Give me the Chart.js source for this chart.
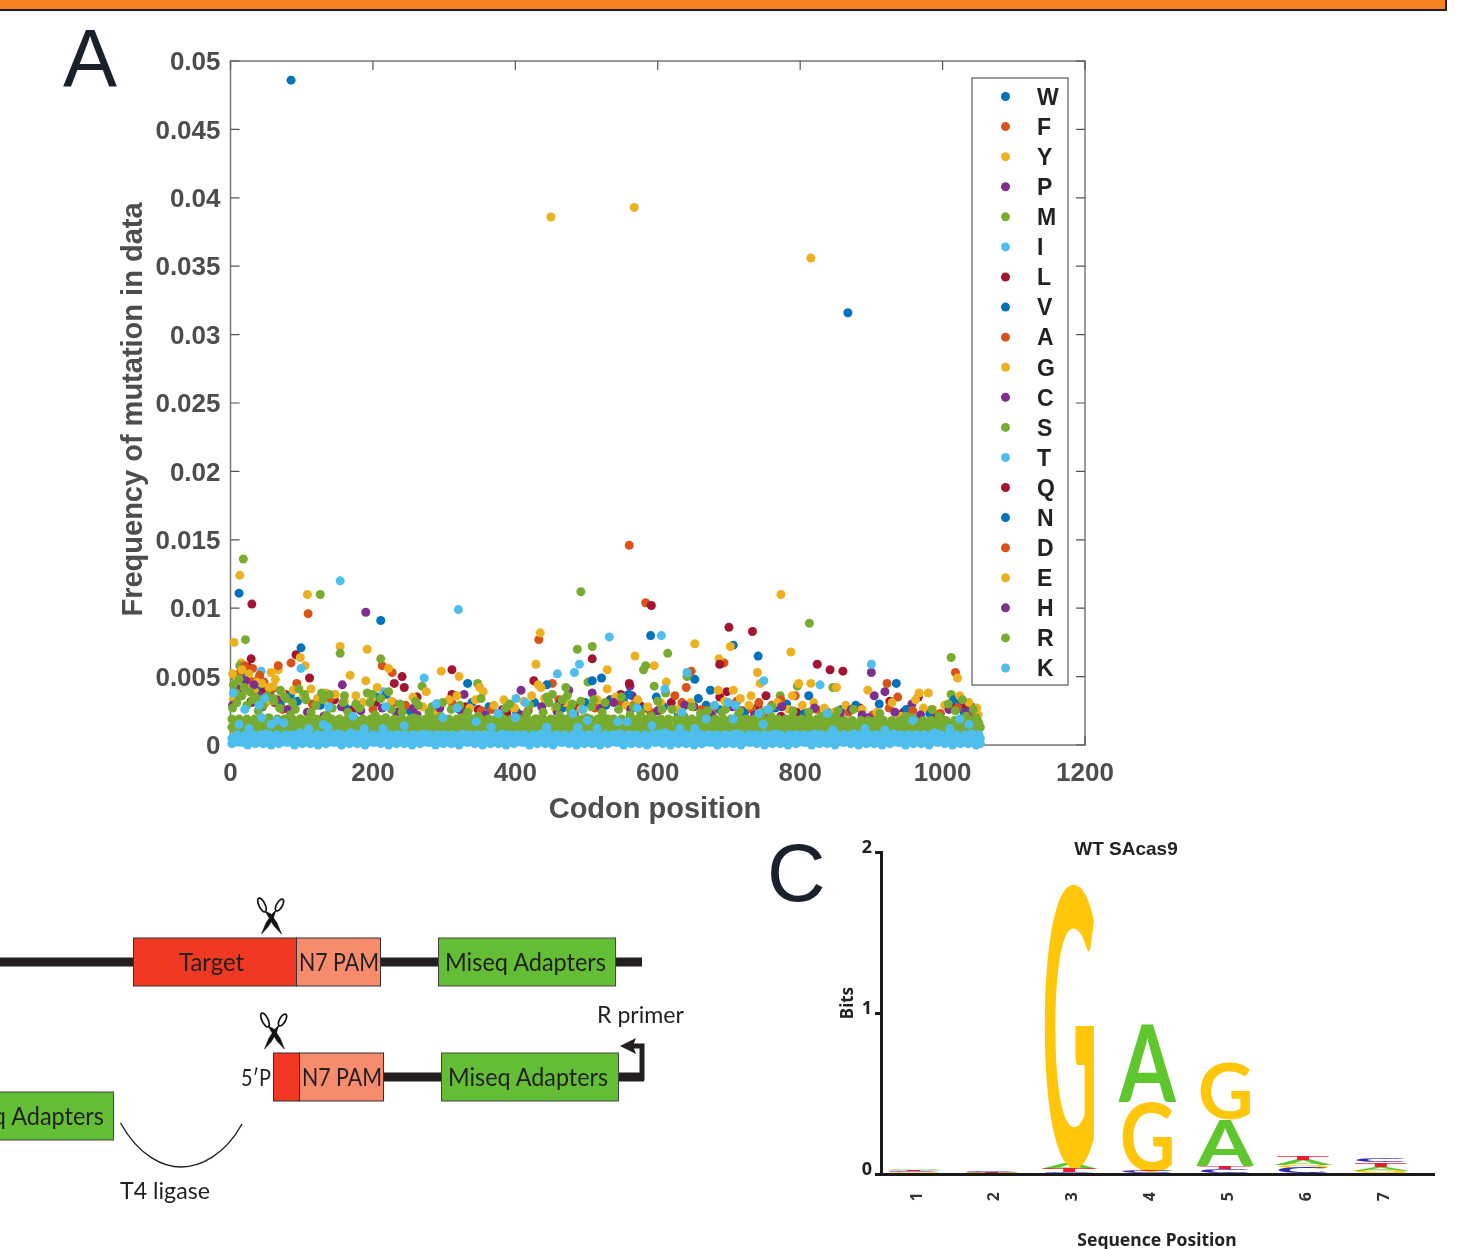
<!DOCTYPE html>
<html><head><meta charset="utf-8">
<script src="https://cdn.jsdelivr.net/npm/chart.js@4"></script>
<style>
html,body{margin:0;padding:0;background:#fff;width:1464px;height:1249px;overflow:hidden}
#bar{position:absolute;left:0;top:0;width:1445px;height:9px;background:#F58220;border-bottom:2px solid #231f20;border-right:2px solid #231f20}
canvas{position:absolute}
#main{left:0;top:0}#logo{left:760px;top:830px}
#sk{position:absolute;left:0;top:0}
.pl{position:absolute;font:81px "Liberation Sans",Arial,sans-serif;color:#1a202c;line-height:1}
</style></head><body>
<canvas id="main" width="1464" height="830"></canvas>
<canvas id="logo" width="704" height="419"></canvas>
<div id="bar"></div>
<div class="pl" style="left:63px;top:18px">A</div>
<div class="pl" style="left:767px;top:833px">C</div>
<svg id="sk" width="760" height="1249" xmlns="http://www.w3.org/2000/svg" style="font-family:Lato,sans-serif;fill:#231f20">
<defs><g id="sc" fill="none" stroke="#111">
<ellipse cx="262" cy="905" rx="3" ry="7.6" transform="rotate(-26 262 905)" stroke-width="1.7"/>
<ellipse cx="279.5" cy="905" rx="2.9" ry="6.6" transform="rotate(30 279.5 905)" stroke-width="1.7"/>
<path d="M265 911L271 914L277 923L281.5 934L274 926Z" fill="#111" stroke-width=".6"/>
<path d="M276 910L272 914L266 923L261.5 934L268 927L273 919Z" fill="#111" stroke-width=".6"/></g></defs>
<rect x="0" y="957.5" width="642" height="9" fill="#231f20"/>
<rect x="133.5" y="938" width="163" height="48" fill="#F03823" stroke="#333" stroke-width="1"/>
<rect x="296.5" y="938" width="84" height="48" fill="#F68B6D" stroke="#333" stroke-width="1"/>
<rect x="438.5" y="938" width="177" height="48" fill="#63BE35" stroke="#444" stroke-width="1"/>
<use href="#sc"/>
<text x="179" y="971" font-size="25" textLength="65" lengthAdjust="spacingAndGlyphs">Target</text>
<text x="299" y="971" font-size="25" textLength="80" lengthAdjust="spacingAndGlyphs">N7 PAM</text>
<text x="445" y="971" font-size="25" textLength="161" lengthAdjust="spacingAndGlyphs">Miseq Adapters</text>
<rect x="384" y="1072.5" width="260" height="9" fill="#231f20"/>
<path d="M618 1078H642V1046H630" fill="none" stroke="#231f20" stroke-width="5"/>
<path d="M620 1046L636 1038L633 1046L636 1054Z" fill="#231f20"/>
<rect x="273.5" y="1053" width="26" height="48" fill="#F03823" stroke="#333" stroke-width="1"/>
<rect x="299.5" y="1053" width="84" height="48" fill="#F68B6D" stroke="#333" stroke-width="1"/>
<rect x="441.5" y="1053" width="177" height="48" fill="#63BE35" stroke="#444" stroke-width="1"/>
<use href="#sc" transform="translate(3 115)"/>
<text x="241" y="1086" font-size="24" textLength="30" lengthAdjust="spacingAndGlyphs">5′P</text>
<text x="302" y="1086" font-size="25" textLength="80" lengthAdjust="spacingAndGlyphs">N7 PAM</text>
<text x="448" y="1086" font-size="25" textLength="160" lengthAdjust="spacingAndGlyphs">Miseq Adapters</text>
<text x="597" y="1023" font-size="24" textLength="87" lengthAdjust="spacingAndGlyphs">R primer</text>
<rect x="-5" y="1092" width="118.5" height="48" fill="#63BE35" stroke="#444" stroke-width="1"/>
<text x="-57" y="1125" font-size="25" textLength="161" lengthAdjust="spacingAndGlyphs">Miseq Adapters</text>
<path d="M120.5 1123C140 1158 165 1167 181 1167C200 1167 225 1155 242 1124" fill="none" stroke="#231f20" stroke-width="1.4"/>
<text x="120" y="1199" font-size="24" textLength="90" lengthAdjust="spacingAndGlyphs">T4 ligase</text>
</svg>
<script>
// ---- Panel A values: [codon position, frequency] ----
const bandA=[6,17,27,38,49,60,70,81,93,104,114,125,137,148,158,169,181,192,202,213,225,236,246,257,269,280,290,301,313,324,334,345,357,368,378,389,401,412,422,433,445,456,466,477,489,500,510,521,533,544,554,565,577,588,598,609,621,632,642,653,665,676,686,697,709,720,730,741,753,764,774,785,797,808,818,829,841,852,862,873,885,896,906,917,929,940,950,961,973,984,994,1005,1017,1028,1038,1049];
const bandB=[2,12,23,34,44,55,66,76,87,98,109,120,131,142,153,164,175,186,197,208,219,230,241,252,263,274,285,296,307,318,329,340,351,362,373,384,395,406,417,428,439,450,461,472,483,494,505,516,527,538,549,560,571,582,593,604,615,626,637,648,659,670,681,692,703,714,725,736,747,758,769,780,791,802,813,824,835,846,857,868,879,890,901,912,923,934,945,956,967,978,989,1000,1011,1022,1033,1044,1053];
const bandC=[9,21,32,43,54,65,77,88,99,110,122,133,144,155,166,178,189,200,211,223,234,245,256,267,279,290,301,312,324,335,346,357,368,380,391,402,413,425,436,447,458,469,481,492,503,514,526,537,548,559,570,582,593,604,615,627,638,649,660,671,683,694,705,716,728,739,750,761,772,784,795,806,817,829,840,851,862,873,885,896,907,918,930,941,952,963,974,986,997,1008,1019,1031,1042,1051];
const band=(level,xs)=>xs.map(x=>[x,level]);
const W=[[85,.0486],[867,.0316],[12,.0111]];
const F=[[560,.0146],[583,.0104],[109,.0096]];
const Y=[[450,.0386],[567,.0393],[815,.0356],[13,.0124],[108,.011],[773,.011]];
const P=[[190,.0097],[900,.0053],[157,.0044],[408,.004]];
const M=[[18,.0136],[126,.011],[492,.0112],[813,.0089],[21,.0077]];
const I=[[154,.012],[320,.0099],[605,.008],[532,.0079],[490,.0059],[900,.0059]];
const L=[[30,.0103],[591,.0102],[700,.0086],[733,.0083],[92,.0066],[29,.0063],[508,.0063]];
const V=[[211,.0091],[99,.0071],[590,.008],[706,.0073],[741,.0065],[652,.0048],[935,.0045],[333,.0045],[521,.0049]];
const A=[[433,.0077],[85,.006],[213,.0058],[227,.0053],[693,.006],[1018,.0053],[647,.0054],[640,.0042],[922,.0045],[452,.0045]];
const G=[[435,.0082],[5,.0075],[154,.0072],[192,.007],[568,.0065],[595,.0058],[652,.0074],[702,.0072],[686,.0063],[787,.0068],[98,.0064],[105,.0058],[296,.0054],[321,.005],[222,.0056],[429,.0059],[740,.0053],[168,.0051],[190,.0047],[529,.0055],[612,.0046],[744,.0045],[815,.0045],[15,.006],[57,.0053],[67,.0055]];
const C=[[475,.004],[508,.0038],[328,.0037],[561,.0043],[564,.0036],[651,.0028],[919,.0039],[904,.0036],[957,.003],[1026,.0032],[1040,.0028],[18,.0045],[36,.0038]];
const S=[[154,.0067],[211,.0063],[487,.007],[508,.0072],[583,.0058],[580,.0055],[614,.0067],[1012,.0064],[13,.0058],[641,.005],[595,.0043],[796,.0043],[347,.0045],[269,.0043],[192,.0038],[5,.005],[471,.0042],[502,.0046],[846,.0042],[1012,.0037],[611,.0038],[772,.0036]];
const T=[[483,.0053],[459,.0052],[641,.0053],[272,.0049],[99,.0056],[749,.0047],[828,.0044],[43,.0054],[610,.0041],[215,.0039]];
const Q=[[687,.0059],[824,.0059],[842,.0055],[860,.0054],[311,.0055],[241,.005],[230,.0045],[244,.0042],[111,.0049],[560,.0045],[13,.005],[426,.0047],[311,.0037],[262,.0035],[228,.0031],[330,.0028],[29,.0032],[697,.0039],[687,.0035],[752,.0036],[926,.0032],[966,.0035],[1013,.0031],[1046,.0019],[773,.0021],[718,.0025],
[8,.0039],[22,.0044],[41,.0035],[62,.0031],[77,.0037],[118,.0029],[146,.0033],[172,.0026],[204,.0031],[280,.0024],[348,.0026],[388,.0023],[447,.0031],[486,.0028],[533,.0033],[548,.0037],[575,.0029],[619,.0031],[664,.0024],[741,.0028],[795,.0024],[851,.0021],[884,.0027],[945,.0024],[990,.0022],[1032,.0027],[6,.0044],[15,.0053],[25,.0057],[35,.0046],[44,.004]];
const N=[[444,.0044],[674,.004],[559,.0037],[598,.0035],[657,.0034],[812,.0036],[536,.0033],[508,.0047],
[10,.0042],[20,.0048],[32,.0038],[48,.0033],[70,.003],[84,.0036],[94,.0032],[126,.0029],[162,.0027],[205,.0035],[219,.0037],[252,.0025],[290,.003],[321,.0026],[339,.0031],[363,.0028],[402,.0024],[427,.0031],[466,.0027],[498,.0031],[527,.0029],[552,.0032],[582,.0027],[608,.0028],[629,.0023],[668,.0029],[686,.0026],[722,.0024],[765,.0027],[781,.003],[806,.0023],[838,.0024],[858,.0026],[878,.0029],[911,.003],[949,.0026],[982,.0023],[1016,.0033],[1030,.0024],[7,.005],[18,.0053],[28,.0042],[38,.0043],[55,.0037]];
const D=[[67,.0058],[41,.0051],[40,.0049],[93,.0045],[367,.0026],[937,.0035],[742,.0031],[793,.0036],[662,.0026],
[6,.0033],[17,.0041],[27,.0047],[52,.0035],[73,.0026],[115,.003],[140,.0034],[179,.0028],[200,.0026],[246,.0029],[284,.0023],[312,.003],[352,.0025],[376,.0023],[395,.0028],[418,.0025],[461,.0033],[479,.0023],[512,.0027],[545,.003],[566,.0029],[590,.0024],[624,.0036],[634,.0031],[678,.0028],[711,.0032],[732,.0026],[760,.0029],[773,.0033],[823,.0026],[868,.0024],[902,.0022],[925,.0027],[958,.0025],[997,.0023],[1021,.0027],[1042,.0021],[12,.0052],[20,.0058],[31,.0056],[47,.0046],[59,.0041]];
const E=[[1021,.0049],[895,.004],[967,.0038],[980,.0038],[275,.0039],[206,.0042],[432,.0044],[436,.0042],[529,.0041],[350,.0042],[355,.0039],[706,.004],[685,.004],[731,.0036],[789,.0036],[798,.0045],[851,.0042],[1050,.0022],
[4,.0033],[11,.0047],[24,.0042],[34,.0039],[50,.0031],[60,.0043],[72,.0038],[88,.004],[102,.0036],[113,.0041],[122,.0034],[134,.0038],[147,.0037],[160,.0032],[176,.0036],[186,.0031],[198,.0034],[226,.0032],[238,.0029],[256,.0035],[270,.0028],[288,.0025],[307,.0033],[318,.0036],[336,.0027],[344,.0033],[370,.0029],[384,.0033],[399,.0027],[412,.0032],[423,.0036],[441,.0034],[456,.0027],[470,.0031],[492,.0026],[515,.0033],[541,.0035],[556,.0029],[572,.0033],[586,.0028],[604,.0031],[627,.0026],[646,.0031],[672,.0024],[694,.0032],[716,.0034],[728,.0029],[750,.0025],[768,.0031],[784,.0026],[803,.0029],[819,.0031],[834,.0027],[848,.0024],[864,.0029],[887,.0026],[908,.0024],[929,.0031],[941,.0021],[962,.0033],[973,.0027],[986,.0026],[1003,.0029],[1024,.0036],[1037,.0031],[1048,.0027],[3,.0052],[9,.0048],[16,.0055],[26,.0052],[37,.0046],[44,.0045],[54,.0042],[63,.0048]];
const H=[[592,.0021],[257,.0027],[463,.0031],[820,.0027],[791,.0024],[774,.0028],[887,.0022],[1002,.0018],
[3,.0029],[14,.0036],[30,.0031],[45,.0028],[65,.0033],[81,.0026],[108,.0024],[131,.0021],[156,.0028],[183,.0025],[213,.0027],[233,.0024],[262,.0022],[294,.0027],[326,.0023],[358,.0022],[382,.0026],[408,.0022],[437,.0028],[459,.0024],[483,.0022],[520,.0027],[538,.0031],[562,.0026],[600,.0025],[638,.0029],[676,.0022],[705,.0028],[736,.0022],[756,.002],[828,.0019],[856,.0022],[872,.0026],[896,.002],[933,.0024],[969,.0022],[1009,.0026],[1034,.0024],[10,.0041],[21,.0047],[33,.0044],[42,.0036]];
const R=[...band(.0011,bandA),...band(.0013,bandB),...band(.0016,bandC),...band(.0019,bandB.filter(x=>x<850)),...band(.0018,bandA.filter(x=>x>=850&&x<1053)),
[3,.0027],[9,.0031],[16,.0036],[23,.0029],[31,.0033],[39,.0025],[46,.0029],[54,.002],[61,.0032],[69,.0027],[76,.0035],[84,.0022],[91,.0026],[98,.0019],[106,.0033],[113,.0024],[120,.0029],[128,.0038],[135,.0022],[143,.0027],[150,.0018],[158,.0031],[165,.0024],[173,.0019],[181,.0027],[188,.0016],[196,.0031],[203,.0022],[211,.0034],[218,.002],[226,.0026],[234,.0017],[241,.0024],[249,.0015],[257,.002],[264,.0029],[272,.0017],[279,.0024],[287,.0015],[295,.0021],[302,.0017],[310,.0026],[317,.0014],[325,.002],[333,.0024],[340,.0016],[348,.0021],[355,.0014],[363,.0019],[371,.0016],[378,.0022],[386,.0027],[393,.0015],[401,.002],[409,.0017],[416,.0023],[424,.0015],[431,.0019],[439,.0024],[447,.0031],[454,.0016],[462,.0022],[470,.0018],[477,.0026],[485,.0019],[492,.0032],[500,.002],[507,.0028],[515,.0015],[522,.0024],[530,.0019],[538,.0017],[545,.0026],[553,.0017],[561,.0022],[568,.0014],[576,.0024],[583,.0016],[591,.0021],[606,.0026],[637,.0021],[660,.0023],[690,.0024],[713,.0022],[759,.0021],[789,.002],[850,.0021],[957,.002],[995,.0021],[1018,.0025],[1033,.0021],[1047,.002],
[4,.0044],[8,.0038],[12,.0048],[19,.0042],[27,.0039],[35,.0035],[43,.0033],[52,.0036],[60,.0034],[70,.004],[78,.0034],[87,.0031],[96,.0041],[104,.0037],[130,.0033],[139,.0037],[160,.0036],[176,.003],[199,.0037],[222,.0039],[238,.003],[260,.0032],[283,.0028],[298,.0031],[322,.0029],[352,.0034],[392,.003],[420,.0029],[444,.0035],[452,.0037],[458,.0028],[466,.0033],[473,.0036],[480,.003],[510,.0033],[526,.0031],[549,.0035],[566,.0028],[600,.0032],[620,.0026],[648,.0028],[670,.0025],[695,.0026],[715,.0025],[745,.0024],[760,.0028],[790,.0025],[812,.0024],[830,.0021],[853,.0025],[875,.0026],[912,.0023],[948,.0021],[985,.0026],[1008,.003],[1028,.0033],[1043,.0026]];
const K=[...band(.0002,bandA),...band(.0005,bandB),...band(.00075,bandC),
[2,.0001],[13,.0002],[24,0],[35,.0001],[46,.0001],[57,0],[68,.0001],[79,.0002],[90,0],[101,.0001],[112,.0001],[123,0],[134,.0001],[145,.0002],[156,0],[167,.0001],[178,.0001],[189,0],[200,.0002],[211,.0001],[222,0],[233,.0001],[244,.0001],[255,0],[266,.0001],[277,.0002],[288,0],[299,.0001],[310,.0001],[321,0],[332,.0002],[343,.0001],[354,0],[365,.0001],[376,.0001],[387,0],[398,.0001],[409,.0002],[420,0],[431,.0001],[442,.0001],[453,0],[464,.0002],[475,.0001],[486,0],[497,.0001],[508,.0001],[519,0],[530,.0001],[541,.0002],[552,0],[563,.0001],[574,.0001],[585,0],[596,.0002],[607,.0001],[618,0],[629,.0001],[640,.0001],[651,0],[662,.0001],[673,.0002],[684,0],[695,.0001],[706,.0001],[717,0],[728,.0002],[739,.0001],[750,0],[761,.0001],[772,.0001],[783,0],[794,.0001],[805,.0002],[816,0],[827,.0001],[838,.0001],[849,0],[860,.0002],[871,.0001],[882,0],[893,.0001],[904,.0001],[915,0],[926,.0001],[937,.0002],[948,0],[959,.0001],[970,.0001],[981,0],[992,.0002],[1003,.0001],[1014,0],[1025,.0001],[1036,.0001],[1047,0],[1053,.0001],
[7,.0006],[18,.0004],[29,.0007],[40,.0005],[51,.0008],[62,.0006],[73,.0004],[84,.0007],[95,.0005],[106,.0008],[117,.0005],[128,.0007],[139,.0004],[150,.0008],[161,.0006],[172,.0005],[183,.0007],[194,.0004],[205,.0006],[216,.0008],[227,.0005],[238,.0007],[249,.0004],[260,.0006],[271,.0008],[282,.0005],[293,.0007],[304,.0004],[315,.0006],[326,.0008],[337,.0005],[348,.0007],[359,.0004],[370,.0006],[381,.0008],[392,.0005],[403,.0007],[414,.0004],[425,.0006],[436,.0008],[447,.0005],[458,.0007],[469,.0004],[480,.0006],[491,.0008],[502,.0005],[513,.0007],[524,.0004],[535,.0006],[546,.0008],[557,.0005],[568,.0007],[579,.0004],[590,.0006],[601,.0008],[612,.0005],[623,.0007],[634,.0004],[645,.0006],[656,.0008],[667,.0005],[678,.0007],[689,.0004],[700,.0006],[711,.0008],[722,.0005],[733,.0007],[744,.0004],[755,.0006],[766,.0008],[777,.0005],[788,.0007],[799,.0004],[810,.0006],[821,.0008],[832,.0005],[843,.0007],[854,.0004],[865,.0006],[876,.0008],[887,.0005],[898,.0007],[909,.0004],[920,.0006],[931,.0008],[942,.0005],[953,.0007],[964,.0004],[975,.0006],[986,.0008],[997,.0005],[1008,.0007],[1019,.0004],[1030,.0006],[1041,.0008],[1051,.0005],
[4,.0038],[20,.0026],[12,.0015],[26,.0012],[44,.002],[40,.0029],[48,.0034],[57,.0015],[65,.0018],[75,.0016],[98,.0009],[110,.0012],[130,.0015],[137,.0013],[138,.0028],[172,.0021],[169,.0009],[188,.0012],[218,.0028],[214,.0012],[244,.0014],[289,.003],[318,.0027],[298,.002],[345,.0017],[376,.0023],[366,.0013],[401,.0034],[414,.0031],[400,.002],[444,.0013],[481,.0023],[495,.0026],[501,.0018],[488,.0013],[515,.0012],[544,.0017],[557,.0017],[571,.0027],[592,.0014],[610,.0009],[634,.0024],[631,.0012],[652,.0012],[668,.0019],[680,.0029],[699,.0031],[709,.0029],[706,.0019],[742,.0023],[748,.0015],[755,.0026],[838,.0023],[846,.0011],[891,.0012],[919,.0011],[958,.0018],[1024,.0019],[1037,.0015],[1010,.0012],[989,.0009]];
const letters=['W','F','Y','P','M','I','L','V','A','G','C','S','T','Q','N','D','E','H','R','K'];
const seriesValues=[W,F,Y,P,M,I,L,V,A,G,C,S,T,Q,N,D,E,H,R,K];
const palette=['#0072BD','#D95319','#EDB120','#7E2F8E','#77AC30','#4DBEEE','#A2142F'];
const xTicks=[0,200,400,600,800,1000,1200];
const yTicks=[0,.005,.01,.015,.02,.025,.03,.035,.04,.045,.05];
const axisFont='"Liberation Sans",Arial,sans-serif';

// ---- Panel C values: [sequence position, bits from, bits to] ----
const logoA=[[1,.022,.032],[2,.008,.012],[3,.03,.065],[4,.447,.925],[5,.05,.335],[6,.055,.085],[7,.02,.045]];
const logoG=[[1,.005,.012],[2,.004,.008],[3,.03,1.795],[4,.012,.44],[5,.335,.683],[6,.04,.055],[7,.008,.02]];
const logoC=[[1,.012,.018],[2,.012,.016],[3,.006,.012],[4,.006,.018],[5,.006,.03],[6,.008,.04],[7,.072,.1]];
const logoT=[[1,.018,.022],[2,.008,.012],[3,.012,.035],[4,.018,.022],[5,.03,.05],[6,.085,.11],[7,.045,.07]];
const logoTicksX=[1,2,3,4,5,6,7];
const logoTicksY=[0,1,2];

Chart.defaults.animation=false;
function shiftLabels(s,dx,dy){ if(s._shifted) return; s._shifted=true; const o=s.drawLabels; s.drawLabels=function(a){const c=this.ctx;c.save();c.translate(dx,dy);o.call(this,a);c.restore();}; }
const framePlugin={id:'frame',
 beforeDatasetsDraw(ch){
  const c=ch.ctx,{left:l,right:r,top:t,bottom:b}=ch.chartArea,x=ch.scales.x,y=ch.scales.y;
  c.save();c.strokeStyle='#777';c.lineWidth=1.5;c.strokeRect(l,t,r-l,b-t);
  c.strokeStyle='#555';c.lineWidth=1.2;c.beginPath();
  xTicks.forEach(v=>{const p=x.getPixelForValue(v);c.moveTo(p,b);c.lineTo(p,b-9);c.moveTo(p,t);c.lineTo(p,t+9);});
  yTicks.forEach(v=>{const p=y.getPixelForValue(v);c.moveTo(l,p);c.lineTo(l+9,p);c.moveTo(r,p);c.lineTo(r-9,p);});
  c.stroke();c.restore();
 },
 afterDatasetsDraw(ch){
  const c=ch.ctx;c.save();
  c.fillStyle='#fff';c.fillRect(972,78,96,607);
  c.strokeStyle='#666';c.lineWidth=1.3;c.strokeRect(972,78,96,607);
  letters.forEach((s,i)=>{const py=96.5+i*30.08;
   c.fillStyle=palette[i%7];c.beginPath();c.arc(1005.5,py,4.5,0,Math.PI*2);c.fill();
   c.fillStyle='#222';c.font='bold 23px '+axisFont;c.textAlign='left';c.textBaseline='middle';c.fillText(s,1037,py+2);});
  c.fillStyle='#4d4d4d';c.font='bold 29px '+axisFont;c.textAlign='center';c.textBaseline='middle';
  c.fillText('Codon position',655,810);
  c.translate(134,409.5);c.rotate(-Math.PI/2);c.fillText('Frequency of mutation in data',0,0);
  c.restore();
 }};
new Chart(document.getElementById('main'),{type:'scatter',
 data:{datasets:letters.map((s,i)=>({label:s,data:seriesValues[i].map(p=>({x:p[0],y:p[1]})),backgroundColor:palette[i%7],pointRadius:4.5,pointHoverRadius:4.5,pointBorderWidth:0,clip:false,order:19-i}))},
 options:{responsive:false,devicePixelRatio:1,
  layout:{padding:{left:115,right:379,top:61,bottom:0}},
  plugins:{legend:{display:false},tooltip:{enabled:false}},
  scales:{
   x:{type:'linear',min:0,max:1200,afterBuildTicks(s){s.ticks=xTicks.map(v=>({value:v}));},afterFit(s){s.height=85;},
    grid:{display:false,drawTicks:false},border:{display:false},
    ticks:{color:'#4d4d4d',font:{family:axisFont,size:26,weight:'bold'},padding:13,maxRotation:0,autoSkip:false,callback:v=>String(v)}},
   y:{type:'linear',min:0,max:.05,afterBuildTicks(s){s.ticks=yTicks.map(v=>({value:v}));},afterFit(s){s.width=115.5;shiftLabels(s,0,2);},
    grid:{display:false,drawTicks:false},border:{display:false},
    ticks:{color:'#4d4d4d',font:{family:axisFont,size:26,weight:'bold'},padding:10,autoSkip:false,callback:v=>String(+v.toFixed(3))}}
  }},plugins:[framePlugin]});

const logoFont='"Noto Sans",Arial,sans-serif';
const glyphPlugin={id:'glyphs',
 afterDatasetsDraw(ch){
  const c=ch.ctx;
  ch.data.datasets.forEach((d,i)=>{
   ch.getDatasetMeta(i).data.forEach(el=>{
    const top=Math.min(el.y,el.base),h=Math.abs(el.base-el.y),w=d.barThickness,x0=el.x-3.5-w/2;
    c.save();c.font='bold 100px Lato,"Liberation Sans",sans-serif';c.textBaseline='alphabetic';c.textAlign='left';
    const m=c.measureText(d.label),gw=m.actualBoundingBoxLeft+m.actualBoundingBoxRight,gh=m.actualBoundingBoxAscent+m.actualBoundingBoxDescent;
    c.translate(x0,top);c.scale(w/gw,h/gh);c.fillStyle=d.glyphColor;c.fillText(d.label,m.actualBoundingBoxLeft,m.actualBoundingBoxAscent);c.restore();
   });
  });
  c.save();c.fillStyle='#222';c.textAlign='center';c.textBaseline='middle';
  c.font='bold 19px '+axisFont;c.fillText('WT SAcas9',366,20);
  c.font='bold 17.5px '+logoFont;c.fillText('Sequence Position',397,411);
  c.translate(88,173);c.rotate(-Math.PI/2);c.font='bold 17px '+logoFont;c.fillText('Bits',0,0);
  c.restore();
 }};
const logoSet=(label,rows,color,w)=>({type:'bar',label,glyphColor:color,barThickness:w,grouped:false,backgroundColor:'rgba(0,0,0,0)',borderWidth:0,
  data:rows.map(r=>({x:r[0],y:[r[1],r[2]]}))});
new Chart(document.getElementById('logo'),{type:'bar',
 data:{datasets:[logoSet('A',logoA,'#5FC62D',58),logoSet('G',logoG,'#FFC60A',50),logoSet('C',logoC,'#2B2BB5',50),logoSet('T',logoT,'#EE1C2E',52)]},
 options:{responsive:false,devicePixelRatio:1,
  layout:{padding:{left:0,right:30,top:22,bottom:0}},
  plugins:{legend:{display:false},tooltip:{enabled:false}},
  scales:{
   x:{type:'linear',offset:false,min:.5375,max:7.64,afterBuildTicks(s){s.ticks=logoTicksX.map(v=>({value:v}));},afterFit(s){s.height=75;},
    grid:{display:false},border:{color:'#1a1a1a',width:3},
    ticks:{color:'#333',font:{family:logoFont,size:16,weight:'bold'},padding:10,minRotation:90,maxRotation:90,autoSkip:false}},
   y:{type:'linear',min:0,max:2,afterBuildTicks(s){s.ticks=logoTicksY.map(v=>({value:v}));},afterFit(s){s.width=121;shiftLabels(s,0,-4);},
    grid:{drawOnChartArea:false,drawTicks:true,tickLength:6,tickWidth:3,tickColor:'#1a1a1a'},border:{color:'#1a1a1a',width:3},
    ticks:{color:'#222',font:{family:logoFont,size:18,weight:'bold'},padding:3,autoSkip:false}}
  }},plugins:[glyphPlugin]});
</script>
</body></html>
